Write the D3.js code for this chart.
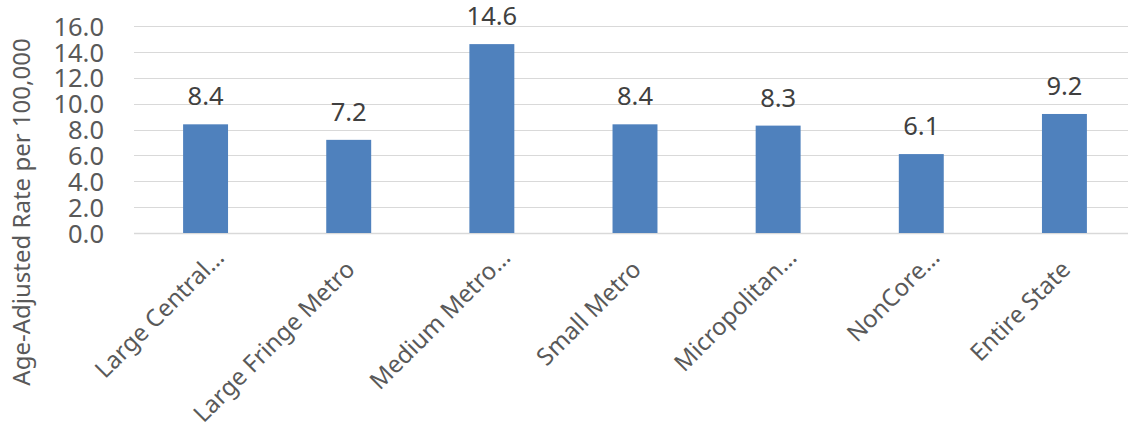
<!DOCTYPE html>
<html><head><meta charset="utf-8">
<script src="https://cdn.jsdelivr.net/npm/d3@7"></script>
<style>
html,body{margin:0;padding:0;background:#fff;}
svg{display:block;font-family:"Segoe UI","Noto Sans","Open Sans",sans-serif;}
</style></head>
<body>
<svg id="chart" width="1128" height="429"></svg>
<script>
const categories = ["Large Central…","Large Fringe Metro","Medium Metro…","Small Metro","Micropolitan…","NonCore…","Entire State"];
const values = [8.4, 7.2, 14.6, 8.4, 8.3, 6.1, 9.2];
const yTicks = [0, 2, 4, 6, 8, 10, 12, 14, 16];
const yTitle = "Age-Adjusted Rate per 100,000";

(function () {
const W = 1128, H = 429;
const pLeft = 134, pRight = 1136, pTop = 26, pBottom = 233;
const svg = d3.select("#chart");

const x = d3.scaleBand().domain(categories).range([pLeft, pRight]).paddingInner(0.686).paddingOuter(0.343);
const y = d3.scaleLinear().domain([0, 16]).range([pBottom, pTop]);

// gridlines
svg.append("g").selectAll("line").data(yTicks).join("line")
  .attr("x1", pLeft).attr("x2", W)
  .attr("y1", d => Math.round(y(d)) + 0.5).attr("y2", d => Math.round(y(d)) + 0.5)
  .attr("stroke", "#d9d9d9").attr("stroke-width", d => d === 0 ? 1.5 : 1.2);

// y axis labels
const yAxis = d3.axisLeft(y).tickValues(yTicks).tickFormat(d3.format(".1f")).tickSize(0).tickPadding(0);
const ga = svg.append("g").attr("transform", `translate(104,0)`).call(yAxis);
ga.select(".domain").remove();
ga.selectAll("text").attr("fill", "#595959").attr("font-size", 25.5).attr("dy", "0.36em");
ga.attr("font-family", null).attr("font-size", null);

// bars
svg.append("g").selectAll("rect").data(values).join("rect")
  .attr("x", (d, i) => x(categories[i]))
  .attr("width", x.bandwidth())
  .attr("y", d => y(d))
  .attr("height", d => y(0) - y(d))
  .attr("fill", "#4f81bd");

// data labels
svg.append("g").selectAll("text").data(values).join("text")
  .attr("x", (d, i) => x(categories[i]) + x.bandwidth() / 2)
  .attr("y", d => y(d) - 19)
  .attr("text-anchor", "middle")
  .attr("fill", "#404040").attr("font-size", 25.5)
  .text(d => d.toFixed(1));

// x labels
svg.append("g").selectAll("text").data(categories).join("text")
  .attr("transform", d => {
    const cx = x(d) + x.bandwidth() / 2;
    const trunc = d.endsWith("…");
    const dx = trunc ? 20 : 7.5, dy = trunc ? 26 : 38;
    return `translate(${cx + dx},${pBottom + dy}) rotate(-45)`;
  })
  .attr("text-anchor", "end")
  .attr("fill", "#595959").attr("font-size", 24)
  .text(d => d);

// y title
svg.append("text")
  .attr("transform", `translate(30,212) rotate(-90)`)
  .attr("text-anchor", "middle")
  .attr("fill", "#595959").attr("font-size", 24)
  .text(yTitle);
})();
</script>
</body></html>
